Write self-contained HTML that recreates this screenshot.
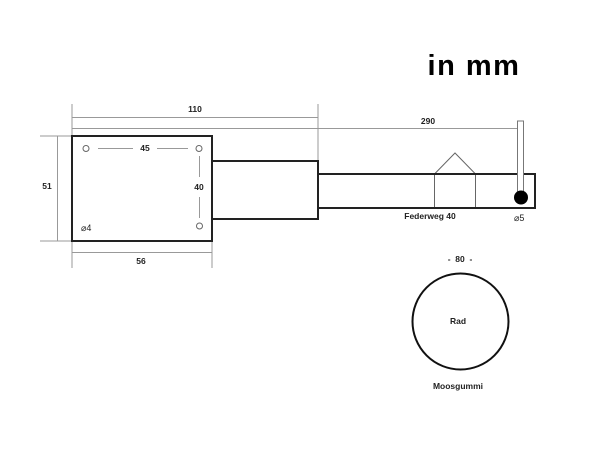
<!DOCTYPE html>
<html><head><meta charset="utf-8"><style>
html,body{margin:0;padding:0;background:#fff;}
svg{display:block;}
text{font-family:"Liberation Sans",sans-serif;font-weight:bold;fill:#222;}
</style></head><body>
<svg width="600" height="450" viewBox="0 0 600 450" xmlns="http://www.w3.org/2000/svg">
<text x="474" y="75" font-size="29" text-anchor="middle" letter-spacing="1.5" style="fill:#000">in mm</text>
<g stroke="#999" stroke-width="1" fill="none">
<line x1="72" y1="104" x2="72" y2="136"/>
<line x1="318" y1="104" x2="318" y2="220"/>
<line x1="72" y1="117.5" x2="318" y2="117.5"/>
<line x1="72" y1="128.5" x2="518" y2="128.5"/>
<line x1="40" y1="136" x2="72" y2="136"/>
<line x1="40" y1="241" x2="72" y2="241"/>
<line x1="57.5" y1="136" x2="57.5" y2="241"/>
<line x1="72" y1="241" x2="72" y2="268"/>
<line x1="212" y1="241" x2="212" y2="268"/>
<line x1="72" y1="252.5" x2="212" y2="252.5"/>
<line x1="98" y1="148.5" x2="133" y2="148.5"/>
<line x1="157" y1="148.5" x2="188" y2="148.5"/>
<line x1="199.5" y1="156" x2="199.5" y2="177"/>
<line x1="199.5" y1="197" x2="199.5" y2="218"/>
</g>
<g stroke="#666" stroke-width="1" fill="none">
<line x1="434.5" y1="174" x2="434.5" y2="208"/>
<line x1="475.5" y1="174" x2="475.5" y2="208"/>
<polyline points="434.5,174 455,153 475.5,174"/>
</g>
<g stroke="#222" stroke-width="2" fill="none">
<rect x="72" y="136" width="140" height="105"/>
<rect x="212" y="161" width="106" height="58"/>
<rect x="318" y="174" width="217" height="34"/>
</g>
<rect x="517.5" y="121" width="6" height="74" fill="#fff" stroke="#777" stroke-width="1"/>
<circle cx="521" cy="197.5" r="7" fill="#000"/>
<g stroke="#666" stroke-width="1" fill="#fff">
<circle cx="86" cy="148.5" r="3"/>
<circle cx="199" cy="148.5" r="3"/>
<circle cx="199.5" cy="226" r="3"/>
</g>
<circle cx="460.5" cy="321.5" r="48" fill="none" stroke="#111" stroke-width="2"/>
<g font-size="8.5" text-anchor="middle">
<text x="195" y="112">110</text>
<text x="428" y="124">290</text>
<text x="47" y="189">51</text>
<text x="145" y="151">45</text>
<text x="199" y="190">40</text>
<text x="141" y="264">56</text>
<text x="430" y="219">Federweg 40</text>
<text x="460" y="262">-&#160;&#160;80&#160;&#160;-</text>
<text x="458" y="324">Rad</text>
<text x="458" y="389">Moosgummi</text>
</g>
<text x="81" y="231" font-size="9" style="font-weight:normal">⌀4</text>
<text x="514" y="221" font-size="9" style="font-weight:normal">⌀5</text>
</svg>
</body></html>
